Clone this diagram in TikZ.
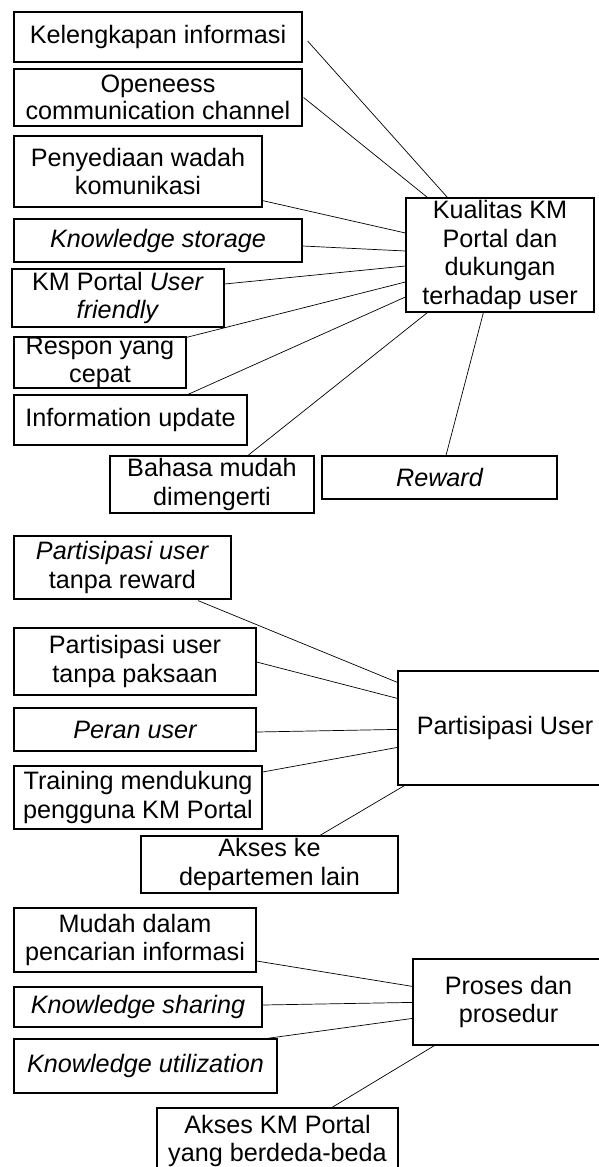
\documentclass[tikz,border=0pt]{standalone}
\usepackage{fontspec}
\setmainfont{Liberation Sans}
\tikzset{
  box/.style={draw=black, line width=1.2pt, inner sep=0pt, align=center,
    font=\fontsize{25.2}{28.5}\selectfont},
  link/.style={draw=black, line width=0.7pt},
}
\begin{document}
\begin{tikzpicture}[x=1pt, y=-1pt]
\useasboundingbox (0,0) rectangle (598,1167);

% --- Kualitas KM Portal ---
\node[box, minimum width=288, minimum height=50] (kel) at (158,37) {Kelengkapan informasi};
\node[box, minimum width=288, minimum height=57, font=\fontsize{25.2}{27}\selectfont] (ope) at (158,97.5) {Openeess\\communication channel};
\node[box, minimum width=248, minimum height=71] (pen) at (138,171.5) {Penyediaan wadah\\komunikasi};
\node[box, minimum width=288, minimum height=43] (kst) at (158,240.5) {\itshape Knowledge storage};
\node[box, minimum width=212, minimum height=58] (kmu) at (118,298) {KM Portal \textit{User}\\\textit{friendly}};
\node[box, minimum width=172, minimum height=49] (res) at (100,362.5) {Respon yang\\cepat};
\node[box, minimum width=233, minimum height=50] (inf) at (130.5,420) {Information update};
\node[box, minimum width=204, minimum height=57] (bah) at (212,484.5) {Bahasa mudah\\dimengerti};
\node[box, minimum width=235, minimum height=43] (rew) at (439.5,477.5) {\itshape Reward};
\node[box, minimum width=188, minimum height=114] (kual) at (500,255) {Kualitas KM\\Portal dan\\dukungan\\terhadap user};

\draw[link] ([shift={(5,4)}]kel.east) -- ([shift={(42,0)}]kual.north west);
\draw[link] ([shift={(1,0)}]ope.east) -- ([shift={(22,0)}]kual.north west);
\draw[link] ([shift={(0,-7)}]pen.south east) -- ([shift={(0,-22)}]kual.west);
\draw[link] ([shift={(0,5.5)}]kst.east) -- ([shift={(0,-4)}]kual.west);
\draw[link] ([shift={(0,-14)}]kmu.east) -- ([shift={(0,11)}]kual.west);
\draw[link] ([shift={(0,1)}]res.north east) -- ([shift={(0,27)}]kual.west);
\draw[link] ([shift={(57.5,0)}]inf.north) -- ([shift={(0,42)}]kual.west);
\draw[link] ([shift={(36,0)}]bah.north) -- ([shift={(22,0)}]kual.south west);
\draw[link] ([shift={(6.5,0)}]rew.north) -- ([shift={(78,0)}]kual.south west);

% --- Partisipasi User ---
\node[box, minimum width=217, minimum height=63] (ptr) at (122.5,567.5) {\textit{Partisipasi user}\\tanpa reward};
\node[box, minimum width=242, minimum height=67] (ptp) at (135,661.5) {Partisipasi user\\tanpa paksaan};
\node[box, minimum width=242, minimum height=43] (per) at (135,729.5) {\itshape Peran user};
\node[box, minimum width=248, minimum height=63] (tra) at (138,797.5) {Training mendukung\\pengguna KM Portal};
\node[box, minimum width=257, minimum height=57] (akd) at (269.5,864.5) {Akses ke\\departemen lain};
\node[box, minimum width=214, minimum height=114] (pu) at (505,728) {Partisipasi User};

\draw[link] ([shift={(75.5,1)}]ptr.south) -- ([shift={(0,12)}]pu.north west);
\draw[link] ([shift={(0,0.5)}]ptp.east) -- ([shift={(0,28)}]pu.north west);
\draw[link] ([shift={(0,2.5)}]per.east) -- ([shift={(0,59)}]pu.north west);
\draw[link] ([shift={(0,-25.5)}]tra.east) -- ([shift={(0,77)}]pu.north west);
\draw[link] ([shift={(50.5,0)}]akd.north) -- ([shift={(7,0)}]pu.south west);

% --- Proses dan prosedur ---
\node[box, minimum width=242, minimum height=64] (mud) at (135,940) {Mudah dalam\\pencarian informasi};
\node[box, minimum width=248, minimum height=40] (ksh) at (138,1007) {\itshape Knowledge sharing};
\node[box, minimum width=263, minimum height=54] (kut) at (145.5,1066) {\itshape Knowledge utilization};
\node[box, minimum width=241, minimum height=66] (akm) at (277.5,1141) {Akses KM Portal\\yang berdeda-beda};
\node[box, minimum width=191, minimum height=86] (pro) at (508.5,1002) {Proses dan\\prosedur};

\draw[link] ([shift={(0,21)}]mud.east) -- ([shift={(0,28)}]pro.north west);
\draw[link] ([shift={(0,-2)}]ksh.east) -- ([shift={(0,44)}]pro.north west);
\draw[link] ([shift={(121.5,0)}]kut.north) -- ([shift={(0,60)}]pro.north west);
\draw[link] ([shift={(54.5,0)}]akm.north) -- ([shift={(22,0)}]pro.south west);
\end{tikzpicture}
\end{document}
